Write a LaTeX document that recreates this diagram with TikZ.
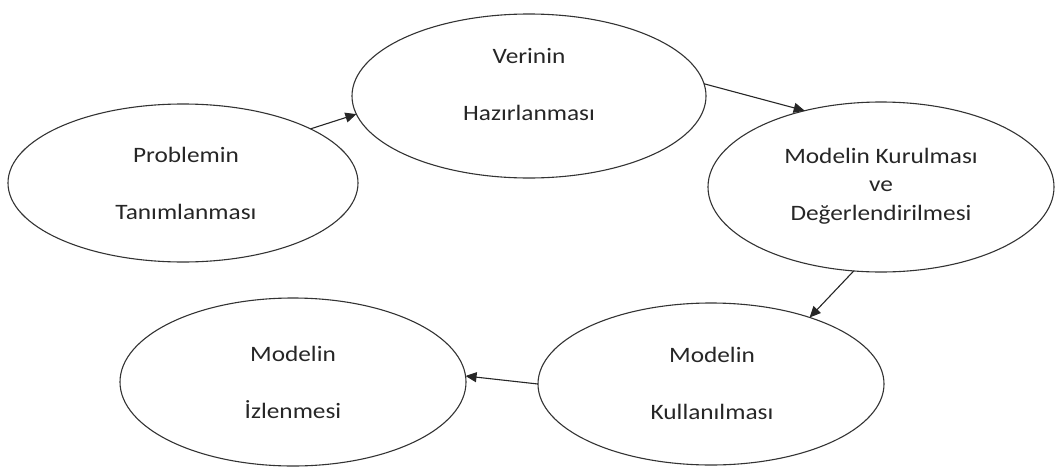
\documentclass[tikz,border=0pt]{standalone}
\usepackage{fontspec}
\setmainfont{Carlito}[FakeStretch=1.15]
\usetikzlibrary{shapes.geometric,arrows.meta}
\begin{document}
\begin{tikzpicture}[x=1pt,y=-1pt,
  stage/.style={draw=black!80, line width=1.1pt, ellipse, inner sep=0pt, outer sep=0pt},
  caption/.style={align=center, text=black!85, font=\fontsize{22}{28.5}\selectfont},
  flow/.style={draw=black!85, line width=1.1pt, -{Triangle[length=11pt,width=10pt]}}]
  \useasboundingbox (0,0) rectangle (1058,474);
  % the five stages of the process
  \node[stage, minimum width=350pt, minimum height=158pt] (e1) at (183,183) {};
  \node[stage, minimum width=354pt, minimum height=164pt] (e2) at (529,96) {};
  \node[stage, minimum width=346pt, minimum height=170pt] (e3) at (881,187) {};
  \node[stage, minimum width=346pt, minimum height=162pt] (e4) at (711,384) {};
  \node[stage, minimum width=346pt, minimum height=168pt] (e5) at (293,382) {};
  % stage titles
  \node[caption] (t1) at (186,183) {Problemin\\[28.5pt]Tanımlanması};
  \node[caption] (t2) at (529,85) {Verinin\\[28.5pt]Hazırlanması};
  \node[caption] (t3) at (881,186) {Modelin Kurulması\\ve\\Değerlendirilmesi};
  \node[caption] (t4) at (712,383) {Modelin\\[28.5pt]Kullanılması};
  \node[caption] (t5) at (293,382) {Modelin\\[28.5pt]İzlenmesi};
  % transitions between stages
  \draw[flow] (e1.23) -- (e2.186);
  \draw[flow] (e2.4) -- (e3.135);
  \draw[flow] (e3.252) -- (e4.34);
  \draw[flow] (e4.180) -- (e5.2);
\end{tikzpicture}
\end{document}
